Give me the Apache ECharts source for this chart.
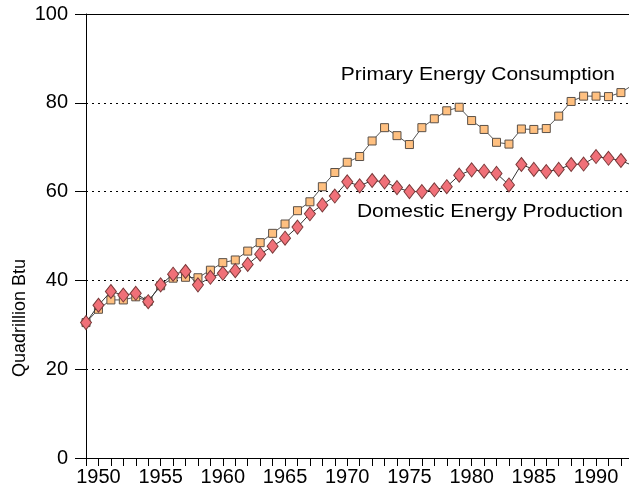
<!DOCTYPE html>
<html>
<head>
<meta charset="utf-8">
<script src="https://cdn.jsdelivr.net/npm/echarts@6/dist/echarts.min.js"></script>
<style>
  html, body { margin: 0; padding: 0; background: #fff; }
  #chart { width: 629px; height: 496px; }
</style>
</head>
<body>
<div id="chart"></div>
<script>
// years 1949 .. 1993 (last one runs off the right edge)
var years = [];
for (var y = 1949; y <= 1993; y++) years.push(y);

var consumption = [
  30.5, 33.5, 35.6, 35.6, 36.3, 35.3, 38.8, 40.5, 40.7, 40.6,
  42.3, 44.0, 44.6, 46.6, 48.5, 50.6, 52.7, 55.7, 57.7, 61.1,
  64.3, 66.6, 67.9, 71.4, 74.4, 72.6, 70.6, 74.4, 76.4, 78.2,
  79.0, 76.0, 74.0, 71.1, 70.7, 74.1, 74.0, 74.2, 77.0, 80.3,
  81.5, 81.5, 81.4, 82.3, 84.1
];
var production = [
  30.5, 34.4, 37.5, 36.7, 37.1, 35.2, 39.0, 41.4, 42.0, 39.0,
  40.7, 41.6, 42.2, 43.6, 45.9, 47.7, 49.5, 52.0, 55.0, 57.0,
  59.0, 62.2, 61.3, 62.5, 62.2, 60.9, 60.0, 60.0, 60.4, 61.1,
  63.7, 64.9, 64.6, 64.1, 61.5, 66.1, 65.0, 64.5, 65.0, 66.1,
  66.2, 67.9, 67.5, 67.0, 65.8
];
var yTicks = [0, 20, 40, 60, 80, 100];

function pairs(vals) {
  var out = [];
  for (var i = 0; i < years.length; i++) out.push([years[i], vals[i]]);
  return out;
}

var font = 'Liberation Sans, Arial, sans-serif';
var myChart = echarts.init(document.getElementById('chart'));

// the reference text is a bit wide, so labels get stretched sideways
function label(txt, x, y) {
  return {
    type: 'text',
    x: x,
    y: y,
    scaleX: 1.2,
    originX: 0,
    originY: 0,
    style: {
      text: txt,
      font: '17.5px ' + font,
      fill: '#000',
      textAlign: 'right',
      textVerticalAlign: 'middle'
    }
  };
}

var option = {
  animation: false,
  grid: { left: 86, right: 0, top: 14, bottom: 38 },
  xAxis: [
    {
      type: 'value',
      min: 1949,
      max: 1992.65,
      interval: 1,
      axisLine: { lineStyle: { color: '#000', width: 1 } },
      axisTick: { length: 8, lineStyle: { color: '#000' } },
      axisLabel: {
        margin: 9,
        fontSize: 20,
        fontFamily: font,
        color: '#000',
        showMinLabel: true,
        showMaxLabel: false,
        formatter: function (v) { return (v % 5 === 0) ? String(v) : ''; }
      },
      splitLine: { show: false }
    },
    {
      type: 'value',
      position: 'top',
      min: 1949,
      max: 1992.65,
      axisLine: { show: true, onZero: false, lineStyle: { color: '#000', width: 1 } },
      axisTick: { show: false },
      axisLabel: { show: false },
      splitLine: { show: false }
    }
  ],
  yAxis: {
    type: 'value',
    min: yTicks[0],
    max: yTicks[yTicks.length - 1],
    interval: 20,
    axisLine: { show: true, lineStyle: { color: '#000', width: 1 } },
    axisTick: { show: true, length: 11, lineStyle: { color: '#000' } },
    axisLabel: { margin: 18, fontSize: 20, fontFamily: font, color: '#000' },
    splitLine: {
      show: true,
      lineStyle: { color: '#000', width: 1, type: [2, 4] }
    }
  },
  series: [
    {
      name: 'Primary Energy Consumption',
      type: 'line',
      data: pairs(consumption),
      clip: true,
      symbol: 'rect',
      symbolSize: 8,
      lineStyle: { color: '#555', width: 1 },
      itemStyle: { color: '#FFC080', borderColor: '#5a5048', borderWidth: 1 },
      z: 3
    },
    {
      name: 'Domestic Energy Production',
      type: 'line',
      data: pairs(production),
      clip: true,
      symbol: 'diamond',
      symbolSize: [11, 14],
      lineStyle: { color: '#333', width: 1 },
      itemStyle: { color: '#F07078', borderColor: '#7a3a3a', borderWidth: 1 },
      z: 4
    }
  ],
  graphic: [
    label('Primary Energy Consumption', 615, 75),
    label('Domestic Energy Production', 623, 212),
    {
      type: 'text',
      x: 20,
      y: 318,
      rotation: Math.PI / 2,
      style: {
        text: 'Quadrillion Btu',
        font: '18px ' + font,
        fill: '#000',
        textAlign: 'center',
        textVerticalAlign: 'middle'
      }
    }
  ]
};

myChart.setOption(option);
</script>
</body>
</html>
